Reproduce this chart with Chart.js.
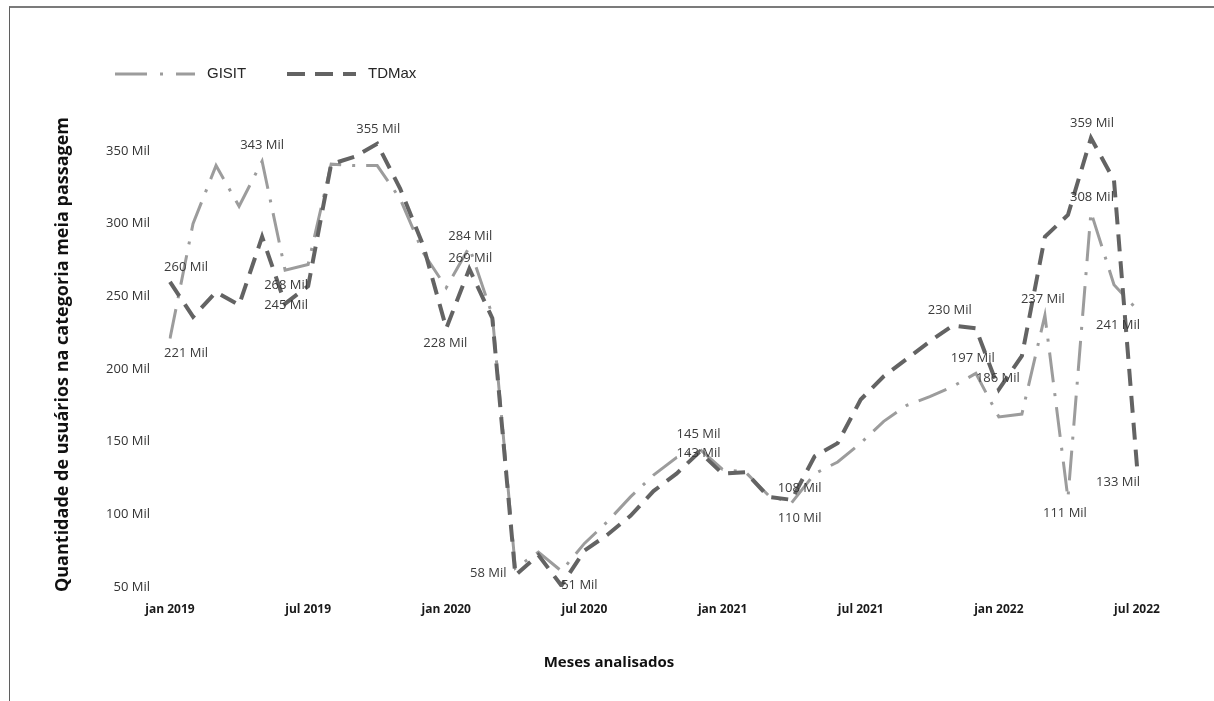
<!DOCTYPE html>
<html lang="pt-BR">
<head>
<meta charset="utf-8">
<title>Meia passagem</title>
<script src="https://cdn.jsdelivr.net/npm/chart.js@4.4.1/dist/chart.umd.min.js"></script>
<style>
  html, body { margin: 0; padding: 0; background: #ffffff; }
  #wrap { position: relative; width: 1214px; height: 701px; overflow: hidden; }
  #wrap canvas { position: absolute; left: 0; top: 0; }
  #frame {
    position: absolute; left: 9px; top: 6px; right: 0; bottom: 0;
    border-top: 2px solid #7b7b7b; border-left: 1px solid #5f5f5f;
    pointer-events: none;
  }
</style>
</head>
<body>
<div id="wrap">
  <canvas id="chart" width="1214" height="701"></canvas>
  <div id="frame"></div>
</div>
<script>
// Months analysed (jan 2019 – jul 2022)
const months = [
  'jan 2019','fev 2019','mar 2019','abr 2019','mai 2019','jun 2019','jul 2019','ago 2019','set 2019','out 2019','nov 2019','dez 2019',
  'jan 2020','fev 2020','mar 2020','abr 2020','mai 2020','jun 2020','jul 2020','ago 2020','set 2020','out 2020','nov 2020','dez 2020',
  'jan 2021','fev 2021','mar 2021','abr 2021','mai 2021','jun 2021','jul 2021','ago 2021','set 2021','out 2021','nov 2021','dez 2021',
  'jan 2022','fev 2022','mar 2022','abr 2022','mai 2022','jun 2022','jul 2022'
];

// Half-fare users per month, in thousands ("Mil")
const gisit = [
  221, 300, 340, 312, 343, 268, 272, 341, 340, 340, 317, 280,
  256, 284, 237, 63, 74, 61, 80, 95, 112, 127, 139, 145,
  131, 129, 113, 108, 128, 136, 149, 164, 175, 181, 188, 197,
  167, 169, 237, 111, 308, 258, 241
];
const tdmax = [
  260, 236, 253, 244, 291, 245, 257, 341, 346, 355, 324, 285,
  228, 269, 235, 58, 72, 51, 75, 86, 99, 116, 128, 143,
  128, 129, 112, 110, 140, 149, 179, 195, 207, 219, 230, 228,
  186, 209, 291, 306, 359, 330, 133
];

// Y axis tick values (thousands)
const yTicks = [50, 100, 150, 200, 250, 300, 350];

// Which points carry a value label, and where the text sits relative to the point
const gisitLabels = [
  { i: 0, dx: 16, dy: 15 }, { i: 4, dx: 0, dy: -16 }, { i: 5, dx: 1, dy: 15 },
  { i: 13, dx: 1, dy: -11 }, { i: 23, dx: -1, dy: -15 }, { i: 27, dx: 8, dy: -14 },
  { i: 35, dx: -3, dy: -15 }, { i: 38, dx: -2, dy: -16 }, { i: 39, dx: -3, dy: 15 },
  { i: 40, dx: 1, dy: -15 }, { i: 42, dx: -19, dy: 16 }
];
const tdmaxLabels = [
  { i: 0, dx: 16, dy: -15 }, { i: 5, dx: 1, dy: 2 }, { i: 9, dx: 1, dy: -15 },
  { i: 12, dx: -1, dy: 15 }, { i: 13, dx: 1, dy: -10 }, { i: 15, dx: -27, dy: -2 },
  { i: 17, dx: 18, dy: 0 }, { i: 23, dx: -1, dy: 1 }, { i: 27, dx: 8, dy: 18 },
  { i: 34, dx: -3, dy: -15 }, { i: 36, dx: -1, dy: -11 }, { i: 40, dx: 1, dy: -15 },
  { i: 42, dx: -19, dy: 16 }
];

const LIGHT = '#9c9c9c';
const DARK = '#636363';

// Value labels ("355 Mil") next to selected points
const valueLabels = {
  id: 'valueLabels',
  afterDatasetsDraw(chart) {
    const ctx = chart.ctx;
    ctx.save();
    ctx.font = '13px "Open Sans", "Noto Sans", sans-serif';
    ctx.fillStyle = '#3b3b3b';
    ctx.textAlign = 'center';
    ctx.textBaseline = 'middle';
    chart.data.datasets.forEach((ds, di) => {
      const meta = chart.getDatasetMeta(di);
      (ds.valueLabels || []).forEach(spec => {
        const el = meta.data[spec.i];
        if (!el) return;
        ctx.fillText(ds.data[spec.i] + ' Mil', el.x + spec.dx, el.y + spec.dy);
      });
    });
    ctx.restore();
  }
};

// Legend drawn with the same dash pattern as each line
const dashLegend = {
  id: 'dashLegend',
  afterDraw(chart, args, opts) {
    const ctx = chart.ctx;
    ctx.save();
    chart.data.datasets.forEach((ds, di) => {
      const item = opts.items[di];
      ctx.beginPath();
      ctx.setLineDash(ds.legendDash || ds.borderDash || []);
      ctx.lineWidth = ds.borderWidth;
      ctx.strokeStyle = ds.borderColor;
      ctx.lineCap = 'butt';
      ctx.moveTo(item.x0, opts.y);
      ctx.lineTo(item.x1, opts.y);
      ctx.stroke();
      ctx.setLineDash([]);
      ctx.font = '15px "Liberation Sans", Arial, sans-serif';
      ctx.fillStyle = '#262626';
      ctx.textAlign = 'left';
      ctx.textBaseline = 'middle';
      ctx.fillText(ds.label, item.x1 + 12, opts.y);
    });
    ctx.restore();
  }
};

// X axis caption, centred on the whole figure rather than the plot area
const xCaption = {
  id: 'xCaption',
  afterDraw(chart, args, opts) {
    const ctx = chart.ctx;
    ctx.save();
    ctx.font = 'bold 15px "Open Sans", "Noto Sans", sans-serif';
    ctx.fillStyle = '#111111';
    ctx.textAlign = 'center';
    ctx.textBaseline = 'middle';
    ctx.fillText(opts.text, opts.x, opts.y);
    ctx.restore();
  }
};

new Chart(document.getElementById('chart'), {
  type: 'line',
  data: {
    labels: months,
    datasets: [
      {
        label: 'GISIT',
        data: gisit,
        borderColor: LIGHT,
        borderWidth: 3,
        borderDash: [30, 11, 3, 11],
        legendDash: [32, 13, 3, 13],
        pointRadius: 0,
        tension: 0,
        fill: false,
        order: 1,
        valueLabels: gisitLabels
      },
      {
        label: 'TDMax',
        data: tdmax,
        borderColor: DARK,
        borderWidth: 4,
        borderDash: [17, 10],
        legendDash: [18, 10],
        pointRadius: 0,
        tension: 0,
        fill: false,
        order: 0,
        valueLabels: tdmaxLabels
      }
    ]
  },
  options: {
    responsive: false,
    animation: false,
    devicePixelRatio: 1,
    layout: { padding: { left: 52, right: 77, top: 122, bottom: 20 } },
    plugins: {
      legend: { display: false },
      tooltip: { enabled: false },
      dashLegend: {
        y: 74,
        items: [ { x0: 115, x1: 195 }, { x0: 287, x1: 356 } ]
      },
      xCaption: { text: 'Meses analisados', x: 609, y: 663 }
    },
    scales: {
      x: {
        type: 'category',
        offset: false,
        grid: { display: false, drawTicks: false },
        border: { display: false },
        ticks: {
          autoSkip: false,
          maxRotation: 0,
          padding: 15,
          color: '#1a1a1a',
          font: { family: '"Open Sans", "Noto Sans", sans-serif', size: 12, weight: 'bold' },
          callback(value, index) {
            const m = months[index];
            return (m.startsWith('jan') || m.startsWith('jul')) ? m : '';
          }
        },
        title: { display: false },
        afterFit(scale) { scale.height = 94; }
      },
      y: {
        type: 'linear',
        min: 50,
        max: 370,
        grid: { display: false, drawTicks: false },
        border: { display: false },
        afterBuildTicks(scale) { scale.ticks = yTicks.map(v => ({ value: v })); },
        ticks: {
          padding: 20,
          color: '#333333',
          font: { family: '"Open Sans", "Noto Sans", sans-serif', size: 13 },
          callback(v) { return v + ' Mil'; }
        },
        title: {
          display: true,
          text: 'Quantidade de usuários na categoria meia passagem',
          color: '#111111',
          font: { family: '"Open Sans", "Noto Sans", sans-serif', size: 18, weight: 'bold' },
          padding: { top: 0, bottom: 0 }
        },
        afterFit(scale) { scale.width = 118; }
      }
    }
  },
  plugins: [valueLabels, dashLegend, xCaption]
});
</script>
</body>
</html>
